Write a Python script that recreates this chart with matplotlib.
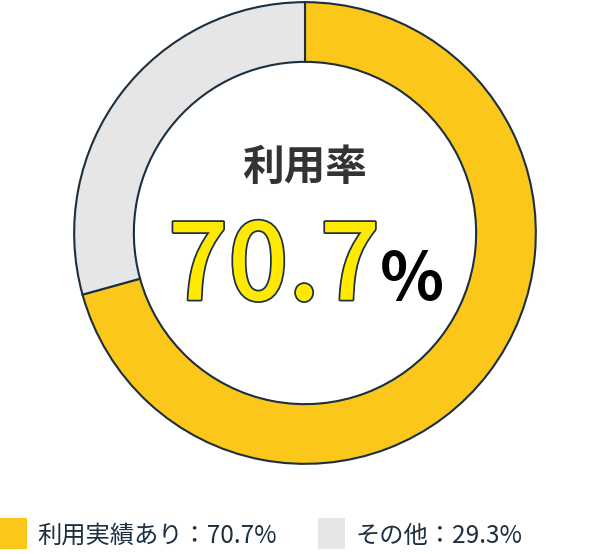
import matplotlib
matplotlib.use("Agg")
import matplotlib.pyplot as plt
import matplotlib.patheffects as pe
from matplotlib.patches import Rectangle

plt.rcParams['font.family'] = ['Noto Sans CJK JP', 'DejaVu Sans']

# data
labels = ['利用実績あり', 'その他']
values = [70.7, 29.3]
colors = ['#FAC71A', '#E6E6E6']
center_title = '利用率'

edge = '#1B2F40'

fig = plt.figure(figsize=(6.08, 5.54), dpi=100)

# donut area: center (305, 233) px, radius 232 px
ax = fig.add_axes([73 / 608, (321 - 232) / 554, 464 / 608, 464 / 554])
ax.pie(values, colors=colors, startangle=90, counterclock=False,
       radius=1.0,
       wedgeprops=dict(width=1 - 172 / 232, edgecolor=edge, linewidth=1.5))
ax.set_xlim(-1.005, 1.005)
ax.set_ylim(-1.005, 1.005)
ax.set_aspect('equal')
ax.axis('off')

# center text
ax.text(0.0, 0.28, center_title, ha='center', va='center',
        fontsize=30, fontweight='bold', color='#333333')
ax.text(0.325, -0.289, f'{values[0]}', ha='right', va='baseline',
        fontsize=76, fontweight='medium', color='#FFE900',
        path_effects=[pe.withStroke(linewidth=2.5, foreground=edge)])
ax.text(0.325, -0.289, '%', ha='left', va='baseline',
        fontsize=48, fontweight='bold', color='black')

# legend
legend_x = [0, 318]
for i, (lab, val, col) in enumerate(zip(labels, values, colors)):
    x0 = legend_x[i]
    fig.patches.append(Rectangle((x0 / 608, (554 - 549) / 554), 27 / 608, 31 / 554,
                                 transform=fig.transFigure, facecolor=col,
                                 edgecolor='none'))
    fig.text((x0 + 37) / 608, (554 - 536) / 554, f'{lab}：{val}%',
             ha='left', va='center', fontsize=17.5, color=edge)

fig.savefig('out.png', dpi=100)
